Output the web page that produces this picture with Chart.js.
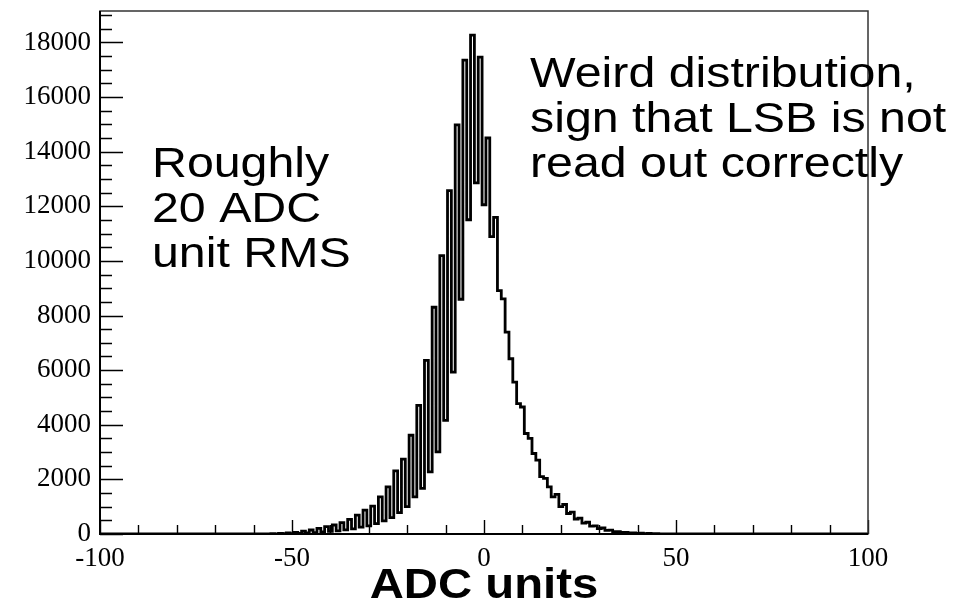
<!DOCTYPE html>
<html><head><meta charset="utf-8">
<script src="https://cdn.jsdelivr.net/npm/chart.js@4"></script>
<style>html,body{margin:0;padding:0;background:#fff}#wrap{width:963px;height:602px}</style>
</head><body><div id="wrap"><canvas id="c" width="963" height="602"></canvas></div>
<script>
// ---- data (1 ADC unit per bin) ----
const binCenters = [
  -55,-54,-53,-52,-51,-50,-49,-48,-47,-46,-45,-44,-43,-42,-41,-40,-39,-38,-37,-36,
  -35,-34,-33,-32,-31,-30,-29,-28,-27,-26,-25,-24,-23,-22,-21,-20,-19,-18,-17,-16,
  -15,-14,-13,-12,-11,-10,-9,-8,-7,-6,-5,-4,-3,-2,-1,0,1,2,3,4,
  5,6,7,8,9,10,11,12,13,14,15,16,17,18,19,20,21,22,23,24,
  25,26,27,28,29,30,31,32,33,34,35,36,37,38,39,40,41,42,43,44,45
];
const counts = [
  15,6,25,10,40,15,60,24,100,37,146,53,207,75,268,95,329,115,414,150,
  536,190,694,250,877,300,1023,380,1363,480,1729,600,2313,780,2740,1000,3616,1360,4712,1670,
  6356,2276,8303,3007,10192,4164,12570,5929,14977,8596,17352,11507,18265,12860,17460,12055,14500,10886,11590,8913,
  8610,7390,6417,5563,4775,4650,3679,3500,2948,2703,2100,2035,1728,1363,1450,1000,1080,750,800,550,
  580,400,430,290,300,200,220,130,140,90,90,55,60,40,40,25,30,15,20,10,10
];
const xRange = [-100, 100];
const xTickValues = [-100, -50, 0, 50, 100];
const xMinorStep = 10;
const yMin = 0;
const yMax = 19150;
const yTickValues = [0, 2000, 4000, 6000, 8000, 10000, 12000, 14000, 16000, 18000];
const yMinorStep = 500;
const xTitle = "ADC units";
const noteLeft = ["Roughly", "20 ADC", "unit RMS"];
const noteRight = ["Weird distribution,", "sign that LSB is not", "read out correctly"];

// histogram points: empty bins outside the filled range sit at zero
const histPoints = [{x: xRange[0], y: 0}, {x: binCenters[0] - 1, y: 0}]
  .concat(binCenters.map((c, i) => ({x: c, y: counts[i]})))
  .concat([{x: binCenters[binCenters.length - 1] + 1, y: 0}, {x: xRange[1], y: 0}]);

const SERIF = "'Liberation Serif', 'Times New Roman', serif";
const SANS = "'Liberation Sans', Arial, Helvetica, sans-serif";

const frameTicks = {
  id: 'frameTicks',
  afterDatasetsDraw(chart) {
    const {ctx, chartArea: a, scales: {x, y}} = chart;
    ctx.save();
    ctx.strokeStyle = '#000';
    ctx.lineWidth = 1.4;
    ctx.beginPath();
    for (let v = yMin; v <= yMax; v += yMinorStep) {
      const py = Math.round(y.getPixelForValue(v)) + 0.5;
      const len = yTickValues.includes(v) ? 23 : 12;
      ctx.moveTo(a.left, py); ctx.lineTo(a.left + len, py);
    }
    for (let v = xRange[0]; v <= xRange[1]; v += xMinorStep) {
      const px = Math.round(x.getPixelForValue(v)) + 0.5;
      const len = xTickValues.includes(v) ? 14 : 9;
      ctx.moveTo(px, a.bottom); ctx.lineTo(px, a.bottom - len);
    }
    ctx.stroke();
    ctx.strokeStyle = '#333';
    ctx.lineWidth = 1.5;
    ctx.strokeRect(a.left, a.top, a.right - a.left, a.bottom - a.top);
    ctx.strokeStyle = '#000';
    ctx.lineWidth = 2;
    ctx.beginPath();
    ctx.moveTo(a.left, a.top); ctx.lineTo(a.left, a.bottom); ctx.lineTo(a.right, a.bottom);
    ctx.stroke();
    ctx.restore();
  }
};

function stretchedText(ctx, txt, x, y, sx) {
  ctx.save();
  ctx.translate(x, y);
  ctx.scale(sx, 1);
  ctx.fillText(txt, 0, 0);
  ctx.restore();
}

const notes = {
  id: 'notes',
  afterDraw(chart) {
    const {ctx, chartArea: a} = chart;
    ctx.save();
    ctx.fillStyle = '#000';
    ctx.textBaseline = 'alphabetic';
    ctx.textAlign = 'left';
    ctx.font = '42px ' + SANS;
    noteRight.forEach((t, i) => stretchedText(ctx, t, 530, 87 + i * 45, 1.15));
    noteLeft.forEach((t, i) => stretchedText(ctx, t, 152, 177 + i * 45, 1.15));
    ctx.font = 'bold 43px ' + SANS;
    ctx.textAlign = 'center';
    stretchedText(ctx, xTitle, (a.left + a.right) / 2, 598, 1.1);
    ctx.restore();
  }
};

new Chart(document.getElementById('c'), {
  type: 'line',
  data: {
    datasets: [{
      data: histPoints,
      stepped: 'middle',
      borderColor: '#000',
      borderWidth: 2.8,
      pointRadius: 0,
      fill: false
    }]
  },
  options: {
    responsive: false,
    animation: false,
    devicePixelRatio: 1,
    layout: {padding: {top: 11, right: 95, left: 0, bottom: 0}},
    plugins: {legend: {display: false}, tooltip: {enabled: false}, title: {display: false}},
    scales: {
      x: {
        type: 'linear', min: xRange[0], max: xRange[1],
        afterFit: s => { s.height = 68; s.paddingLeft = 0; s.paddingRight = 0; },
        afterBuildTicks: s => { s.ticks = xTickValues.map(v => ({value: v})); },
        grid: {display: false, drawTicks: false}, border: {display: false},
        ticks: {autoSkip: false, maxRotation: 0, padding: 9,
                color: '#000', font: {family: SERIF, size: 27},
                callback: v => String(v)}
      },
      y: {
        type: 'linear', min: yMin, max: yMax,
        afterFit: s => { s.width = 100; s.paddingTop = 0; s.paddingBottom = 0; },
        afterBuildTicks: s => { s.ticks = yTickValues.map(v => ({value: v})); },
        grid: {display: false, drawTicks: false}, border: {display: false},
        ticks: {autoSkip: false, padding: 9,
                color: '#000', font: {family: SERIF, size: 27},
                callback: v => String(v)}
      }
    }
  },
  plugins: [frameTicks, notes]
});
</script></body></html>
